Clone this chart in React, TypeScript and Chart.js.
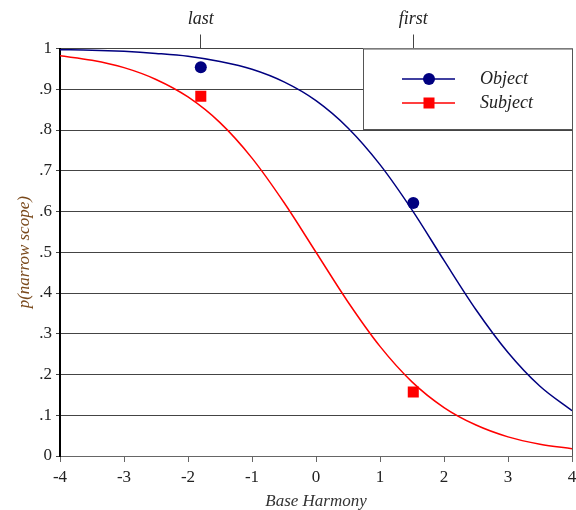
import React, { useEffect, useRef } from "react";
import { Chart, registerables } from "chart.js";

Chart.register(...registerables);

const xGrid = [-4, -3.5, -3, -2.5, -2, -1.5, -1, -0.5, 0, 0.5, 1, 1.5, 2, 2.5, 3, 3.5, 4];
const objectCurve = [0.997, 0.996, 0.993, 0.988, 0.981, 0.968, 0.949, 0.918, 0.872, 0.805, 0.715, 0.604, 0.48, 0.359, 0.254, 0.171, 0.111];
const subjectCurve = [0.982, 0.971, 0.953, 0.924, 0.881, 0.818, 0.731, 0.622, 0.5, 0.378, 0.269, 0.182, 0.119, 0.076, 0.047, 0.029, 0.018];

const obsX = [-1.8, 1.52];
const objectObs = [0.954, 0.621];
const subjectObs = [0.883, 0.157];

const topTickValues = [-1.8, 1.52];
const topTickLabels = ["last", "first"];

const seriesNames = ["Object", "Subject"];
const NAVY = "#000080";
const RED = "#ff0000";
const SERIF = "'Liberation Serif', 'DejaVu Serif', serif";

const legendPlugin = {
  id: "boxLegend",
  afterDraw(chart: any) {
    const { ctx, chartArea } = chart;
    const x0 = 363;
    const y0 = chartArea.top;
    const x1 = chartArea.right;
    const y1 = 129;
    ctx.save();
    ctx.fillStyle = "#ffffff";
    ctx.fillRect(x0, y0, x1 - x0, y1 - y0);
    ctx.strokeStyle = "#555";
    ctx.lineWidth = 1;
    ctx.strokeRect(x0 + 0.5, y0 + 0.5, x1 - x0, y1 - y0);
    ctx.beginPath();
    ctx.moveTo(chartArea.right + 0.5, chartArea.top);
    ctx.lineTo(chartArea.right + 0.5, chartArea.bottom);
    ctx.stroke();
    const rows = [
      { name: seriesNames[0], color: NAVY, y: 79, shape: "circle" },
      { name: seriesNames[1], color: RED, y: 103, shape: "rect" },
    ];
    rows.forEach((r) => {
      ctx.strokeStyle = r.color;
      ctx.lineWidth = 1.5;
      ctx.beginPath();
      ctx.moveTo(402, r.y);
      ctx.lineTo(455, r.y);
      ctx.stroke();
      ctx.fillStyle = r.color;
      if (r.shape === "circle") {
        ctx.beginPath();
        ctx.arc(429, r.y, 6, 0, Math.PI * 2);
        ctx.fill();
      } else {
        ctx.fillRect(423.5, r.y - 5.5, 11, 11);
      }
      ctx.fillStyle = "#222";
      ctx.font = `italic 18px ${SERIF}`;
      ctx.textBaseline = "middle";
      ctx.textAlign = "left";
      ctx.fillText(r.name, 480, r.y);
    });
    ctx.restore();
  },
};

export default function App() {
  const ref = useRef<HTMLCanvasElement | null>(null);
  useEffect(() => {
    if (!ref.current) return;
    const chart = new Chart(ref.current, {
      type: "line",
      data: {
        datasets: [
          {
            label: seriesNames[0] + " curve",
            data: xGrid.map((x, i) => ({ x, y: objectCurve[i] })),
            borderColor: NAVY,
            borderWidth: 1.5,
            pointRadius: 0,
            cubicInterpolationMode: "monotone",
            xAxisID: "x",
          },
          {
            label: seriesNames[1] + " curve",
            data: xGrid.map((x, i) => ({ x, y: subjectCurve[i] })),
            borderColor: RED,
            borderWidth: 1.5,
            pointRadius: 0,
            cubicInterpolationMode: "monotone",
            xAxisID: "x",
          },
          {
            label: seriesNames[0],
            data: obsX.map((x, i) => ({ x, y: objectObs[i] })),
            showLine: false,
            pointStyle: "circle",
            pointRadius: 6,
            backgroundColor: NAVY,
            borderColor: NAVY,
            borderWidth: 0,
            xAxisID: "x",
          },
          {
            label: seriesNames[1],
            data: obsX.map((x, i) => ({ x, y: subjectObs[i] })),
            showLine: false,
            pointStyle: "rect",
            pointRadius: 7.8,
            backgroundColor: RED,
            borderColor: RED,
            borderWidth: 0,
            xAxisID: "x",
          },
        ],
      },
      options: {
        animation: false,
        responsive: false,
        maintainAspectRatio: false,
        layout: { autoPadding: false, padding: { left: 0, right: 4, top: 0, bottom: 0 } },
        plugins: { legend: { display: false }, tooltip: { enabled: false } },
        scales: {
          x: {
            type: "linear",
            position: "bottom",
            min: -4,
            max: 4,
            ticks: {
              stepSize: 1,
              color: "#222",
              font: { family: SERIF, size: 17 },
              padding: 5,
              maxRotation: 0,
            },
            grid: { drawOnChartArea: false, tickLength: 6, color: "#666" },
            border: { color: "#666", width: 1 },
            title: {
              display: true,
              text: "Base Harmony",
              color: "#333",
              font: { family: SERIF, size: 17, style: "italic", lineHeight: 1.0 },
              padding: { top: 0, bottom: 0 },
            },
            afterFit: (s: any) => {
              s.height = 54;
              s.paddingRight = 0;
              s.paddingLeft = 0;
            },
          },
          x2: {
            type: "linear",
            position: "top",
            min: -4,
            max: 4,
            afterBuildTicks: (s: any) => {
              s.ticks = topTickValues.map((v) => ({ value: v }));
            },
            ticks: {
              color: "#222",
              font: { family: SERIF, size: 18, style: "italic" },
              padding: 4,
              maxRotation: 0,
              autoSkip: false,
              callback: (v: any) => {
                const i = topTickValues.indexOf(Number(v));
                return i >= 0 ? topTickLabels[i] : "";
              },
            },
            grid: { drawOnChartArea: false, tickLength: 14, color: "#444" },
            border: { display: false },
            afterFit: (s: any) => {
              s.height = 48.5;
              s.paddingRight = 0;
              s.paddingLeft = 0;
            },
          },
          y: {
            min: 0,
            max: 1,
            ticks: {
              stepSize: 0.1,
              color: "#222",
              font: { family: SERIF, size: 17 },
              padding: 4,
              callback: (v: any) => {
                const n = Math.round(Number(v) * 10);
                if (n === 0) return "0";
                if (n === 10) return "1";
                return "." + n;
              },
            },
            grid: { color: "#444", lineWidth: 1, tickLength: 4 },
            border: { color: "#000", width: 2 },
            title: {
              display: true,
              text: "p(narrow scope)",
              color: "#7a4a1c",
              font: { family: SERIF, size: 17, style: "italic" },
              padding: { top: 14, bottom: 0 },
            },
            afterFit: (s: any) => {
              s.width = 60;
            },
          },
        },
      },
      plugins: [legendPlugin],
    } as any);
    return () => chart.destroy();
  }, []);
  return (
    <div style={{ position: "fixed", left: 0, top: 0, width: 576, height: 510, background: "#fff" }}>
      <canvas ref={ref} width={576} height={510} style={{ width: 576, height: 510 }} />
    </div>
  );
}
